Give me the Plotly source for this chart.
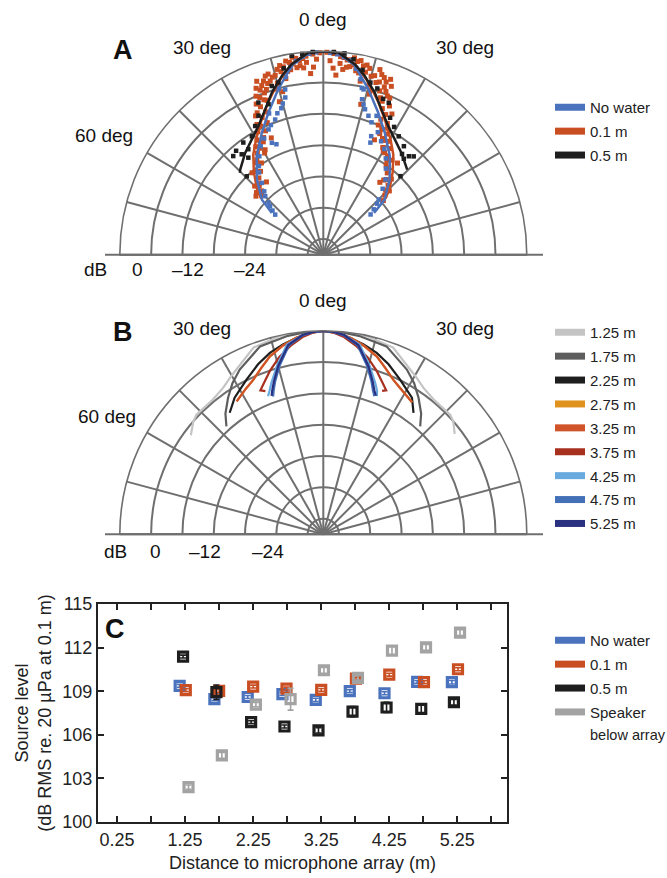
import plotly.graph_objects as go

W, H = 667, 878

# ---------------- Panel A data (theta in deg, level in dB) ----------------
A_ORANGE_THETA = [-1, -2, -3, -3, -4, -5, -6, -7, -8, -9, -10, -11, -12, -12, -13, -14, -15, -16, -17, -18,
                  -19, -20, -20, -21, -22, -22, -23, -24, -24, -25, -26, -27, -28, -29, -30, -31, -32, -34, -35, -36,
                  -38, -40, -41, -42, -44, -45, -47, -49,
                  -5, -6, -7, -8, -9, -10, -11, -13, -14, -15, -16, -16, -17, -18, -19, -20, -21, -21, -22, -23,
                  -23, -24, -25, -26, -27, -28, -30, -33, -37, -39, -43, -46,
                  1, 2, 3, 3, 4, 5, 6, 7, 8, 9, 10, 11, 12, 12, 13, 14, 15, 16, 17, 18,
                  19, 20, 20, 21, 22, 22, 23, 24, 24, 25, 26, 27, 28, 29, 30, 31, 32, 34, 35, 36,
                  38, 38, 39, 40, 42, 44, 46, 48,
                  5, 6, 7, 8, 9, 10, 11, 13, 14, 15, 16, 16, 17, 18, 19, 20, 21, 21, 22, 23,
                  23, 24, 25, 26, 27, 28, 30, 33, 37, 39, 43, 46]
A_ORANGE_DB = [-0.3, -1.5, -3.0, -0.5, -4.2, -0.8, -1.2, -2.5, -1.0, -2.0, -1.6, -3.2, -2.2, -4.5, -3.0, -6.8, -3.4, -8.5, -2.8, -4.5,
               -3.8, -6.0, -7.5, -5.2, -9.5, -6.5, -8.2, -14.5, -10.2, -9.0, -11.6, -13.8, -12.3, -16.0, -13.6, -15.2, -14.6, -17.8, -16.8, -17.2,
               -21.3, -19.8, -18.2, -20.6, -22.0, -20.4, -21.5, -21.9,
               -2.0, -3.0, -1.5, -2.8, -0.7, -3.0, -1.2, -1.8, -2.4, -5.0, -3.6, -6.0, -4.2, -3.0, -5.5, -4.5, -3.4, -7.2, -4.6, -6.0,
               -11.5, -7.4, -12.8, -9.4, -11.0, -14.5, -16.5, -15.8, -19.0, -18.5, -21.0, -22.6,
               -0.2, -1.8, -3.2, -0.4, -4.5, -0.9, -1.0, -2.8, -1.3, -2.2, -1.4, -3.5, -2.0, -5.0, -3.1, -9.3, -3.6, -7.0, -1.9, -4.2,
               -3.1, -3.8, -7.0, -5.5, -8.8, -6.2, -10.8, -14.9, -9.6, -12.5, -11.0, -14.0, -12.8, -15.5, -13.9, -16.2, -15.0, -17.2, -18.0, -16.6,
               -21.4, -19.1, -16.4, -20.2, -19.5, -21.8, -22.6, -23.5,
               -2.2, -3.3, -1.4, -2.6, -0.8, -3.2, -1.1, -1.7, -2.2, -5.3, -3.3, -6.2, -4.5, -2.7, -5.8, -4.8, -3.0, -7.5, -4.2, -6.4,
               -12.0, -7.8, -13.4, -9.0, -11.8, -14.2, -16.0, -16.4, -18.2, -20.6, -20.8, -21.4]

A_BLUE_THETA = [-2, -4, -6, -8, -10, -12, -13, -13.6, -15, -15, -16, -18, -19.6, -21, -22, -23.6, -24.7, -23, -27, -30,
                -33, -36, -38, -40.5, -43, -44.8, -46.5, -47.7, -49, -50.2,
                2, 4, 6, 8, 10, 12, 13, 13.7, 14, 15, 16, 18, 20, 21, 22.8, 22, 24, 27, 30, 33,
                36, 39.6, 42, 45.2, 46.5, 48, 49.6]
A_BLUE_DB = [-0.2, -0.4, -0.8, -1.5, -2.5, -4.2, -6.5, -8.0, -6.0, -9.0, -9.8, -10.5, -11.5, -10.0, -12.2, -12.8, -15.4, -16.0, -14.0, -15.0,
             -16.5, -18.0, -19.0, -20.9, -22.4, -23.2, -24.5, -25.2, -26.1, -27.0,
             -0.3, -0.5, -0.9, -1.4, -2.8, -4.6, -6.2, -6.4, -8.3, -9.2, -10.0, -11.0, -12.0, -10.5, -15.7, -14.5, -13.3, -14.6, -15.6, -17.0,
             -18.6, -20.3, -22.0, -24.0, -24.8, -26.0, -27.1]

A_BLACK_THETA = [-3, -6, -9, -12, -14.6, -17, -20, -23.1, -25, -27.9, -31.1, -35.5, -35.4, -37.7, -39.1, -42.4, -44.3, -40,
                 3, 6, 8.8, 12, 15.3, 18, 21, 23.3, 26, 29, 32.5, 36.6, 38, 40, 42.6, 44.5, 41]
A_BLACK_DB = [-0.1, -0.3, -0.4, -2.5, -4.9, -5.2, -8.3, -7.3, -9.6, -11.1, -12.5, -12.6, -14.2, -15.5, -14.2, -13.4, -18.0, -13.0,
              -0.1, -0.2, -1.1, -2.8, -4.8, -5.5, -7.0, -7.3, -9.8, -11.0, -12.1, -13.1, -14.5, -15.0, -13.4, -17.9, -14.0]

A_BLUE_LINE_THETA = [-50.9, -48.1, -41.5, -34, -26.7, -21.1, -15.2, -9.4, -4.2, 0, 4.2, 9.4, 15.2, 21.1, 26.7, 34, 41.5, 48.1, 50.5]
A_BLUE_LINE_DB = [-26.3, -23.2, -19.8, -16.2, -12.8, -9.8, -6.1, -2.2, -0.3, 0, -0.3, -2.2, -6.1, -9.8, -12.8, -16.2, -19.8, -23.2, -26.4]
A_ORANGE_LINE_THETA = [-48, -45, -40, -35, -30, -25, -20, -15, -10, -5, 0, 5, 10, 15, 20, 25, 30, 35, 40, 45, 48]
A_ORANGE_LINE_DB = [-23.0, -21.0, -18.3, -15.6, -13.3, -10.8, -8.0, -5.0, -2.3, -0.4, 0, -0.4, -2.3, -5.0, -8.0, -10.8, -13.3, -15.6, -18.3, -21.0, -23.0]
A_BLACK_LINE_THETA = [-45.5, -44.3, -37.5, -31.8, -26.8, -21.8, -17.6, -13, -9.4, -4.2, 0, 4.2, 9.4, 13, 17.6, 21.8, 26.8, 31.8, 37.5, 44.6]
A_BLACK_LINE_DB = [-16.6, -16.2, -14.4, -13.0, -11.4, -9.0, -6.4, -3.8, -2.0, -0.15, 0, -0.15, -2.0, -3.8, -6.4, -9.0, -11.4, -13.0, -14.4, -16.1]

A_NAMES = ["No water", "0.1 m", "0.5 m"]
A_COLORS = ["#4a72bd", "#c94e22", "#1e1e1e"]

# ---------------- Panel B data ----------------
B_NAMES = ["1.25 m", "1.75 m", "2.25 m", "2.75 m", "3.25 m", "3.75 m", "4.25 m", "4.75 m", "5.25 m"]
B_COLORS = ["#c4c4c4", "#5e5e5e", "#1e1e1e", "#e0921e", "#d0532a", "#a8301f", "#68a9de", "#4470b8", "#2b3181"]
B_THETA = [
    [-53.2, -49, -46.7, -39.3, -34.4, -30.5, -27.8, -20.5, -12.4, -6, 0, 6, 12.4, 20.5, 27.8, 30.5, 34.4, 39.3, 46.7, 49, 52.6],
    [-41.9, -39, -34.9, -31, -26.9, -18.6, -10.5, -5, 0, 5, 10.5, 18.6, 26.9, 31, 34.9, 39, 41.9],
    [-37.6, -33, -26.4, -21, -16.4, -12, -7.7, -3, 0, 3, 7.7, 12, 16.4, 21, 26.4, 33, 36.6],
    [-33.1, -28, -24.4, -20.5, -16.7, -12, -8, -4, 0, 4, 8, 12, 16.7, 20.5, 24.4, 28, 33.9],
    [-33.1, -28, -24.4, -20.5, -16.7, -12, -8, -4, 0, 4, 8, 12, 16.7, 20.5, 24.4, 28, 33.9],
    [-22.0, -23.6, -21.5, -18, -14, -10, -6, -3, 0, 3, 6, 10, 14, 18, 21.5, 23.6, 22.3],
    [-21.8, -20.5, -18.9, -15.5, -10.9, -6, -3, 0, 3, 6, 10.9, 15.5, 18.9, 20.5, 21.2],
    [-20.0, -19, -17.5, -14.5, -10.3, -6, -3, 0, 3, 6, 10.3, 14.5, 17.5, 19, 20.3],
    [-20.5, -19.5, -18, -15, -10.5, -6, -3, 0, 3, 6, 10.5, 15, 18, 19.5, 20.8],
]
B_DB = [
    [-7.3, -6.0, -5.6, -5.6, -5.0, -4.0, -3.3, -0.8, -0.1, 0, 0, 0, -0.1, -0.8, -3.3, -4.0, -5.0, -5.6, -5.6, -6.0, -7.3],
    [-11.2, -9.2, -7.1, -5.2, -3.6, -1.0, -0.4, -0.1, 0, -0.1, -0.4, -1.0, -3.6, -5.2, -7.1, -9.2, -11.2],
    [-9.6, -7.8, -5.9, -4.1, -2.75, -1.8, -1.0, -0.2, 0, -0.2, -1.0, -1.8, -2.75, -4.1, -5.9, -7.8, -10.0],
    [-8.6, -7.4, -6.5, -5.0, -3.4, -2.0, -1.0, -0.3, 0, -0.3, -1.0, -2.0, -3.4, -5.0, -6.5, -7.4, -8.5],
    [-8.6, -7.4, -6.5, -5.0, -3.4, -2.0, -1.0, -0.3, 0, -0.3, -1.0, -2.0, -3.4, -5.0, -6.5, -7.4, -8.5],
    [-9.4, -8.9, -7.9, -6.0, -4.0, -2.4, -1.0, -0.3, 0, -0.3, -1.0, -2.4, -4.0, -6.0, -7.9, -8.9, -9.3],
    [-10.5, -9.6, -8.3, -5.6, -2.0, -0.6, -0.15, 0, -0.15, -0.6, -2.0, -5.6, -8.3, -9.6, -10.6],
    [-10.9, -9.8, -8.3, -5.6, -2.2, -0.7, -0.2, 0, -0.2, -0.7, -2.2, -5.6, -8.3, -9.8, -10.8],
    [-10.7, -9.7, -8.3, -5.6, -2.1, -0.6, -0.15, 0, -0.15, -0.6, -2.1, -5.6, -8.3, -9.7, -10.6],
]

# Polar grid
ANGLE_TICKS = [-90, -75, -60, -45, -30, -15, 0, 15, 30, 45, 60, 75, 90]
RING_TICKS = [-36, -30, -24, -18, -12, -6, 0]
R_RANGE = [-39, 0]

# ---------------- Panel C data ----------------
C_NAMES = ["No water", "0.1 m", "0.5 m", "Speaker"]
C_LAST_NAME_LINE2 = "below array"
C_COLORS = ["#4a72bd", "#c94e22", "#1e1e1e", "#a3a3a3"]
C_X = [
    [1.17, 1.68, 2.17, 2.68, 3.17, 3.67, 4.18, 4.66, 5.17],
    [1.26, 1.75, 2.25, 2.74, 3.25, 3.76, 4.25, 4.76, 5.26],
    [1.22, 1.71, 2.22, 2.71, 3.21, 3.71, 4.21, 4.72, 5.20],
    [1.30, 1.79, 2.29, 2.80, 3.29, 3.79, 4.29, 4.79, 5.29],
]
C_Y = [
    [109.37, 108.45, 108.6, 108.8, 108.4, 109.0, 108.86, 109.64, 109.62],
    [109.07, 109.02, 109.32, 109.18, 109.09, 109.87, 110.14, 109.62, 110.51],
    [111.38, 108.93, 106.87, 106.57, 106.30, 107.6, 107.88, 107.79, 108.24],
    [102.4, 104.58, 108.08, 108.45, 110.44, 109.91, 111.79, 112.02, 113.03],
]
C_ERR = [
    [0.1, 0.1, 0.1, 0.1, 0.12, 0.1, 0.1, 0.1, 0.12],
    [0.1, 0.1, 0.1, 0.1, 0.1, 0.1, 0.1, 0.1, 0.1],
    [0.1, 0.5, 0.1, 0.1, 0.18, 0.35, 0.35, 0.3, 0.2],
    [0.15, 0.2, 0.15, 0.75, 0.2, 0.15, 0.3, 0.2, 0.2],
]
C_XTICKS = [0.25, 0.75, 1.25, 1.75, 2.25, 2.75, 3.25, 3.75, 4.25, 4.75, 5.25, 5.75]
C_XTICKTEXT = ["0.25", "", "1.25", "", "2.25", "", "3.25", "", "4.25", "", "5.25", ""]
C_YTICKS = [100, 103, 106, 109, 112, 115]

# ---------------- helpers ----------------
GRID = "#6f6f6f"
FONT = "Liberation Sans, Arial, Helvetica, sans-serif"


def fx(p):
    return p / W


def fy(p):
    return 1 - p / H


def polar_cfg(cx, cy, R):
    return dict(
        domain=dict(x=[fx(cx - R), fx(cx + R)], y=[fy(cy), fy(cy - R)]),
        sector=[0, 180], hole=0, bgcolor="rgba(0,0,0,0)",
        angularaxis=dict(rotation=90, direction="clockwise", thetaunit="degrees",
                         tickmode="array", tickvals=ANGLE_TICKS, showticklabels=False, ticks="",
                         showgrid=True, gridcolor=GRID, gridwidth=1.6,
                         showline=True, linecolor=GRID, linewidth=1.6),
        radialaxis=dict(range=R_RANGE, tickmode="array", tickvals=RING_TICKS, showticklabels=False,
                        ticks="", showgrid=True, gridcolor=GRID, gridwidth=1.6, showline=False, angle=180),
    )


fig = go.Figure()

# Panel A
fig.add_trace(go.Scatterpolar(theta=A_ORANGE_THETA, r=A_ORANGE_DB, mode="markers", subplot="polar",
                              marker=dict(symbol="square", size=5, color=A_COLORS[1]), showlegend=False))
fig.add_trace(go.Scatterpolar(theta=A_BLUE_THETA, r=A_BLUE_DB, mode="markers", subplot="polar",
                              marker=dict(symbol="square", size=4.5, color=A_COLORS[0]), showlegend=False))
fig.add_trace(go.Scatterpolar(theta=A_ORANGE_LINE_THETA, r=A_ORANGE_LINE_DB, mode="lines", subplot="polar",
                              line=dict(color=A_COLORS[1], width=2.5), showlegend=False))
fig.add_trace(go.Scatterpolar(theta=A_BLUE_LINE_THETA, r=A_BLUE_LINE_DB, mode="lines", subplot="polar",
                              line=dict(color=A_COLORS[0], width=2.5), showlegend=False))
fig.add_trace(go.Scatterpolar(theta=A_BLACK_THETA, r=A_BLACK_DB, mode="markers", subplot="polar",
                              marker=dict(symbol="square", size=4.5, color=A_COLORS[2]), showlegend=False))
fig.add_trace(go.Scatterpolar(theta=A_BLACK_LINE_THETA, r=A_BLACK_LINE_DB, mode="lines", subplot="polar",
                              line=dict(color=A_COLORS[2], width=2.5), showlegend=False))

# Panel B
for th, db, col in zip(B_THETA, B_DB, B_COLORS):
    fig.add_trace(go.Scatterpolar(theta=th, r=db, mode="lines", subplot="polar2",
                                  line=dict(color=col, width=2.2), showlegend=False))

# Panel C
for xs, ys, es, col in zip(C_X, C_Y, C_ERR, C_COLORS):
    fig.add_trace(go.Scatter(x=xs, y=ys, mode="markers", xaxis="x", yaxis="y",
                             error_y=dict(type="data", array=es, color=col, thickness=1.6, width=3),
                             marker=dict(symbol="square-open", size=9, color=col, line=dict(width=3.2, color=col)),
                             showlegend=False))

# Legend proxies (no data)
for i, (name, col) in enumerate(zip(A_NAMES, A_COLORS)):
    fig.add_trace(go.Scatter(x=[None], y=[None], mode="lines", line=dict(color=col, width=7),
                             name=name, legend="legend", legendgroup="a%d" % i))
for i, (name, col) in enumerate(zip(B_NAMES, B_COLORS)):
    fig.add_trace(go.Scatter(x=[None], y=[None], mode="lines", line=dict(color=col, width=7),
                             name=name, legend="legend2", legendgroup="b%d" % i))
for i, (name, col) in enumerate(zip(C_NAMES, C_COLORS)):
    fig.add_trace(go.Scatter(x=[None], y=[None], mode="lines", line=dict(color=col, width=7),
                             name=name, legend="legend3", legendgroup="c%d" % i))

leg_common = dict(xanchor="left", yanchor="top", bgcolor="rgba(0,0,0,0)", borderwidth=0,
                  font=dict(size=15, family=FONT, color="#222"), itemwidth=30, tracegroupgap=1.4)

annos = []


def txt(t, x, y, size=19, bold=False, xanchor="center", color="#111"):
    annos.append(dict(text=("<b>%s</b>" % t) if bold else t, x=fx(x), y=fy(y), xref="paper", yref="paper",
                      showarrow=False, xanchor=xanchor, yanchor="middle", borderpad=0,
                      font=dict(size=size, family=FONT, color=color)))


# Panel A labels
txt("0 deg", 323, 19)
txt("30 deg", 202, 48)
txt("30 deg", 465, 48)
txt("60 deg", 104, 135)
txt("dB", 95, 269)
txt("0", 137, 269)
txt("–12", 188, 269)
txt("–24", 250, 269)
txt("A", 123, 50, size=27, bold=True)
# Panel B labels
txt("0 deg", 323, 300)
txt("30 deg", 202, 328)
txt("30 deg", 465, 328)
txt("60 deg", 107, 416)
txt("dB", 115, 551)
txt("0", 155, 551)
txt("–12", 205, 551)
txt("–24", 268, 551)
txt("B", 123, 332, size=27, bold=True)
# Panel C letter and wrapped legend line
txt("C", 115, 629, size=27, bold=True)
txt(C_LAST_NAME_LINE2, 589, 735, size=14.5, xanchor="left", color="#222")

shapes = [
    dict(type="line", xref="paper", yref="paper", x0=fx(105), x1=fx(543), y0=fy(254.7), y1=fy(254.7),
         line=dict(color=GRID, width=2)),
    dict(type="line", xref="paper", yref="paper", x0=fx(105), x1=fx(543), y0=fy(534.3), y1=fy(534.3),
         line=dict(color=GRID, width=2)),
]

fig.update_layout(
    width=W, height=H, margin=dict(l=0, r=0, t=0, b=0),
    paper_bgcolor="white", plot_bgcolor="white",
    font=dict(family=FONT, color="#222"),
    polar=polar_cfg(323.3, 254.7, 203.5),
    polar2=polar_cfg(323.3, 534.3, 203.5),
    xaxis=dict(domain=[fx(98), fx(507)], range=[-0.03, 5.98], tickmode="array", tickvals=C_XTICKS,
               ticktext=C_XTICKTEXT, ticks="inside", ticklen=6, tickwidth=1.5, tickcolor="#222",
               showline=True, linewidth=2, linecolor="#222", mirror="ticks", showgrid=False, zeroline=False,
               tickfont=dict(size=18, family=FONT, color="#222"),
               title=dict(text="Distance to microphone array (m)", font=dict(size=18, family=FONT, color="#222"),
                          standoff=8),
               anchor="y", automargin=False),
    yaxis=dict(domain=[fy(822), fy(604)], range=[100, 115], tickmode="array", tickvals=C_YTICKS,
               ticks="inside", ticklen=6, tickwidth=1.5, tickcolor="#222",
               showline=True, linewidth=2, linecolor="#222", mirror="ticks", showgrid=False, zeroline=False,
               tickfont=dict(size=18, family=FONT, color="#222"),
               title=dict(text="Source level<br>(dB RMS re. 20 µPa at 0.1 m)",
                          font=dict(size=18, family=FONT, color="#222"), standoff=6),
               anchor="x", automargin=False),
    legend=dict(x=fx(550), y=fy(91), **leg_common),
    legend2=dict(x=fx(550), y=fy(316), **leg_common),
    legend3=dict(x=fx(550), y=fy(624), **leg_common),
    annotations=annos,
    shapes=shapes,
)

fig.write_html("out.html", config={"displayModeBar": False},
               post_script="document.body.style.margin='0';document.body.style.overflow='hidden';")
